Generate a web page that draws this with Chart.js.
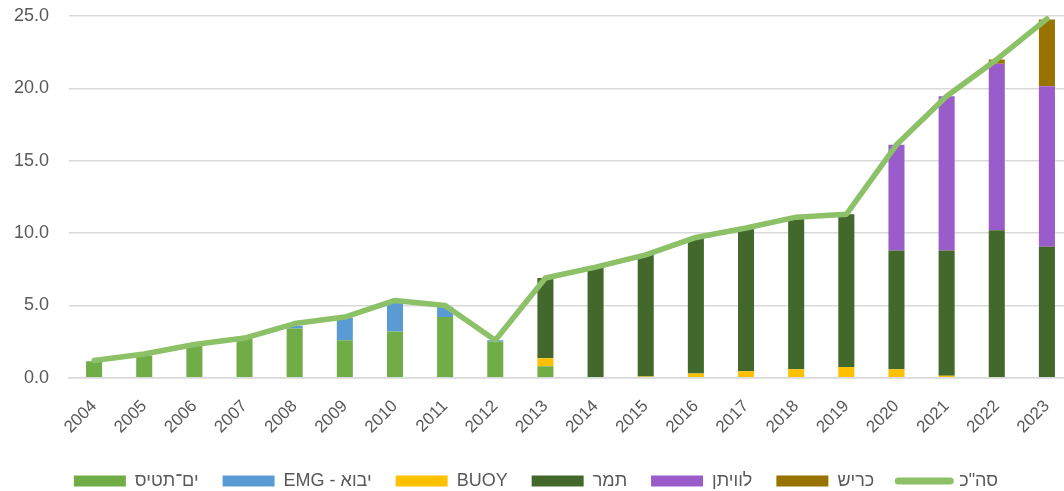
<!DOCTYPE html>
<html>
<head>
<meta charset="utf-8">
<script src="https://cdn.jsdelivr.net/npm/chart.js@4/dist/chart.umd.min.js"></script>
<style>
  html, body { margin: 0; padding: 0; background: #fff; overflow: hidden; }
  .wrap { position: relative; width: 1072px; height: 491px; }
</style>
</head>
<body>
<div class="wrap"><canvas id="gasChart"></canvas></div>
<script>
const years = ["2004","2005","2006","2007","2008","2009","2010","2011","2012","2013",
  "2014","2015","2016","2017","2018","2019","2020","2021","2022","2023"];

const yamTethys = [1.15, 1.55, 2.2, 2.7, 3.4, 2.6, 3.2, 4.2, 2.5, 0.8, 0, 0, 0, 0, 0, 0, 0, 0, 0, 0];
const emg = [0, 0, 0, 0, 0.2, 1.55, 2.0, 0.7, 0.1, 0, 0, 0, 0, 0, 0, 0, 0, 0, 0, 0];
const buoy = [0, 0, 0, 0, 0, 0, 0, 0, 0, 0.55, 0, 0.1, 0.3, 0.45, 0.6, 0.75, 0.6, 0.15, 0, 0];
const tamar = [0, 0, 0, 0, 0, 0, 0, 0, 0, 5.55, 7.65, 8.4, 9.4, 9.9, 10.5, 10.55, 8.2, 8.65, 10.2, 9.05];
const leviathan = [0, 0, 0, 0, 0, 0, 0, 0, 0, 0, 0, 0, 0, 0, 0, 0, 7.3, 10.65, 11.5, 11.1];
const karish = [0, 0, 0, 0, 0, 0, 0, 0, 0, 0, 0, 0, 0, 0, 0, 0, 0, 0, 0.3, 4.6];
const total = [1.2, 1.65, 2.3, 2.75, 3.75, 4.2, 5.35, 5.0, 2.6, 6.9, 7.65, 8.5, 9.7, 10.35, 11.1, 11.3, 16.1, 19.45, 22.0, 24.8];

const FONT = "'Liberation Sans', 'DejaVu Sans', sans-serif";
const TEXT = "#595959";

function barSet(label, data, color) {
  return {
    type: "bar",
    label: label,
    data: data,
    backgroundColor: color,
    borderWidth: 0,
    stack: "gas",
    order: 1,
    categoryPercentage: 1,
    barPercentage: 0.32,
  };
}

const data = {
  labels: years,
  datasets: [
    barSet("ים־תטיס", yamTethys, "#70AD47"),
    barSet("EMG - יבוא", emg, "#5B9BD5"),
    barSet("BUOY", buoy, "#FFC000"),
    barSet("תמר", tamar, "#43682B"),
    barSet("לוויתן", leviathan, "#9B5CCB"),
    barSet("כריש", karish, "#997300"),
    {
      type: "line",
      label: 'סה"כ',
      data: total,
      borderColor: "#8CC168",
      backgroundColor: "#8CC168",
      borderWidth: 5.5,
      borderCapStyle: "round",
      borderJoinStyle: "round",
      pointRadius: 0,
      tension: 0,
      stack: "total",
      order: 0,
    },
  ],
};

const config = {
  type: "bar",
  data: data,
  options: {
    responsive: true,
    maintainAspectRatio: false,
    animation: false,
    layout: { padding: { top: 16, right: 0, bottom: -9, left: 0 } },
    plugins: {
      tooltip: { enabled: false },
      legend: {
        position: "bottom",
        labels: {
          font: { family: FONT, size: 18 },
          color: TEXT,
          usePointStyle: true,
          pointStyleWidth: 52,
          boxHeight: 11,
          padding: 24,
          sort: (a, b) => a.datasetIndex - b.datasetIndex,
          generateLabels: (chart) => {
            const items = Chart.defaults.plugins.legend.labels.generateLabels(chart);
            items.forEach((it) => {
              const ds = chart.data.datasets[it.datasetIndex];
              if (ds.type === "line") {
                it.pointStyle = "line";
                it.lineWidth = 7;
                it.lineCap = "round";
                it.strokeStyle = ds.borderColor;
              } else {
                it.pointStyle = "rect";
                it.lineWidth = 0;
              }
            });
            return items;
          },
        },
      },
    },
    scales: {
      x: {
        stacked: true,
        grid: { display: false },
        border: { color: "#D9D9D9", width: 1.5 },
        ticks: {
          font: { family: FONT, size: 17 },
          color: TEXT,
          minRotation: 45,
          maxRotation: 45,
          padding: 10.5,
        },
      },
      y: {
        stacked: true,
        min: 0,
        max: 25,
        border: { display: false },
        grid: {
          color: "#D9D9D9",
          lineWidth: 1.5,
          drawTicks: true,
          tickLength: 17,
          tickColor: "rgba(0,0,0,0)",
        },
        ticks: {
          stepSize: 5,
          font: { family: FONT, size: 18 },
          color: TEXT,
          padding: 3,
          callback: (v) => Number(v).toFixed(1),
        },
        afterFit: (scale) => { scale.width = 69; },
      },
    },
  },
};

new Chart(document.querySelector("#gasChart"), config);
</script>
</body>
</html>
